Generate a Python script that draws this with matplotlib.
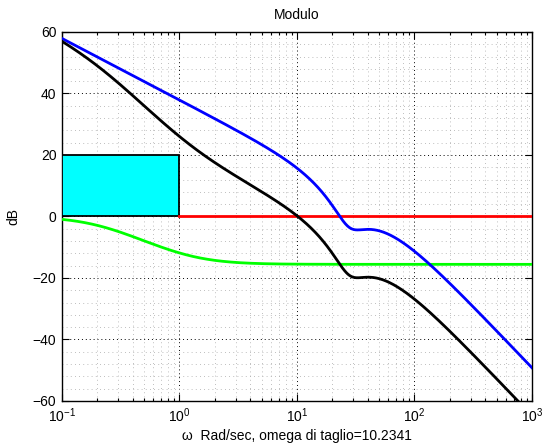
import numpy as np
import matplotlib
matplotlib.use("Agg")
import matplotlib.pyplot as plt
from matplotlib.ticker import MultipleLocator, LogLocator, NullFormatter
from matplotlib.patches import Rectangle

plt.rcParams['font.family'] = ['Liberation Sans', 'DejaVu Sans']

# Loop gain K*G(s): integrator, complex zero pair, complex pole pair, real pole
plant_gain = 78.5
zero_wn = [28.0]
zero_zeta = [0.28]
pole_wn = [25.3]
pole_zeta = [0.95]
real_poles = [54.3]

# Lag network (1 + s/z) / (1 + s/p)
lag_zero = 1.2
lag_pole = 0.2

# Low-frequency specification box (omega range, dB range)
spec_w = [0.1, 1.0]
spec_db = [0.0, 20.0]

# 0 dB reference line
ref_w = [1.0, 1000.0]
ref_db = [0.0, 0.0]

w_range = [0.1, 1000.0]
y_ticks = [-60, -40, -20, 0, 20, 40, 60]
w_cut = 10.2341


def plant(s):
    h = plant_gain / s
    for wn, z in zip(zero_wn, zero_zeta):
        h = h * (s**2 / wn**2 + 2 * z * s / wn + 1)
    for wn, z in zip(pole_wn, pole_zeta):
        h = h / (s**2 / wn**2 + 2 * z * s / wn + 1)
    for p in real_poles:
        h = h / (1 + s / p)
    return h


def lag(s):
    return (1 + s / lag_zero) / (1 + s / lag_pole)


def db(h):
    return 20 * np.log10(np.abs(h))


w = np.logspace(np.log10(w_range[0]), np.log10(w_range[1]), 1200)
s = 1j * w

fig = plt.figure(figsize=(5.42, 4.45), dpi=100)
ax = fig.add_axes([0.1144, 0.0989, 0.8671, 0.8292])
ax.set_xscale('log')

ax.add_patch(Rectangle((spec_w[0], spec_db[0]), spec_w[1] - spec_w[0],
                       spec_db[1] - spec_db[0], facecolor='#00ffff',
                       edgecolor='black', lw=1.3, zorder=3))
ax.plot(ref_w, ref_db, color='red', lw=2.0, zorder=4)
ax.plot(w, db(lag(s)), color='#00ff00', lw=2.0, zorder=4)
ax.plot(w, db(plant(s)), color='blue', lw=2.0, zorder=5)
ax.plot(w, db(plant(s) * lag(s)), color='black', lw=2.0, zorder=6)

ax.set_xlim(*w_range)
ax.set_ylim(-60, 60)
ax.set_yticks(y_ticks)
ax.yaxis.set_minor_locator(MultipleLocator(4))
ax.xaxis.set_major_locator(LogLocator(base=10, numticks=10))
ax.xaxis.set_minor_locator(LogLocator(base=10, subs=np.arange(2, 10), numticks=10))
ax.xaxis.set_minor_formatter(NullFormatter())

ax.grid(True, which='major', color='black', linestyle=(0, (1, 3)), lw=0.7)
ax.grid(True, which='minor', color='#a8a8a8', linestyle=(0, (1, 4)), lw=0.6)
ax.set_axisbelow(True)

ax.tick_params(which='both', direction='in', top=True, right=True,
               labelsize=10, width=0.8)
ax.tick_params(which='major', length=5, pad=4)
ax.tick_params(which='minor', length=2.5)
ax.tick_params(axis='y', which='minor', length=0)
for sp in ax.spines.values():
    sp.set_linewidth(1.0)

ax.set_title('Modulo', fontsize=10, pad=9)
ax.set_ylabel('dB', fontsize=10, labelpad=9)
ax.set_xlabel('ω  Rad/sec, omega di taglio=%.4f' % w_cut, fontsize=10, labelpad=3)

fig.savefig('out.png', dpi=100)
